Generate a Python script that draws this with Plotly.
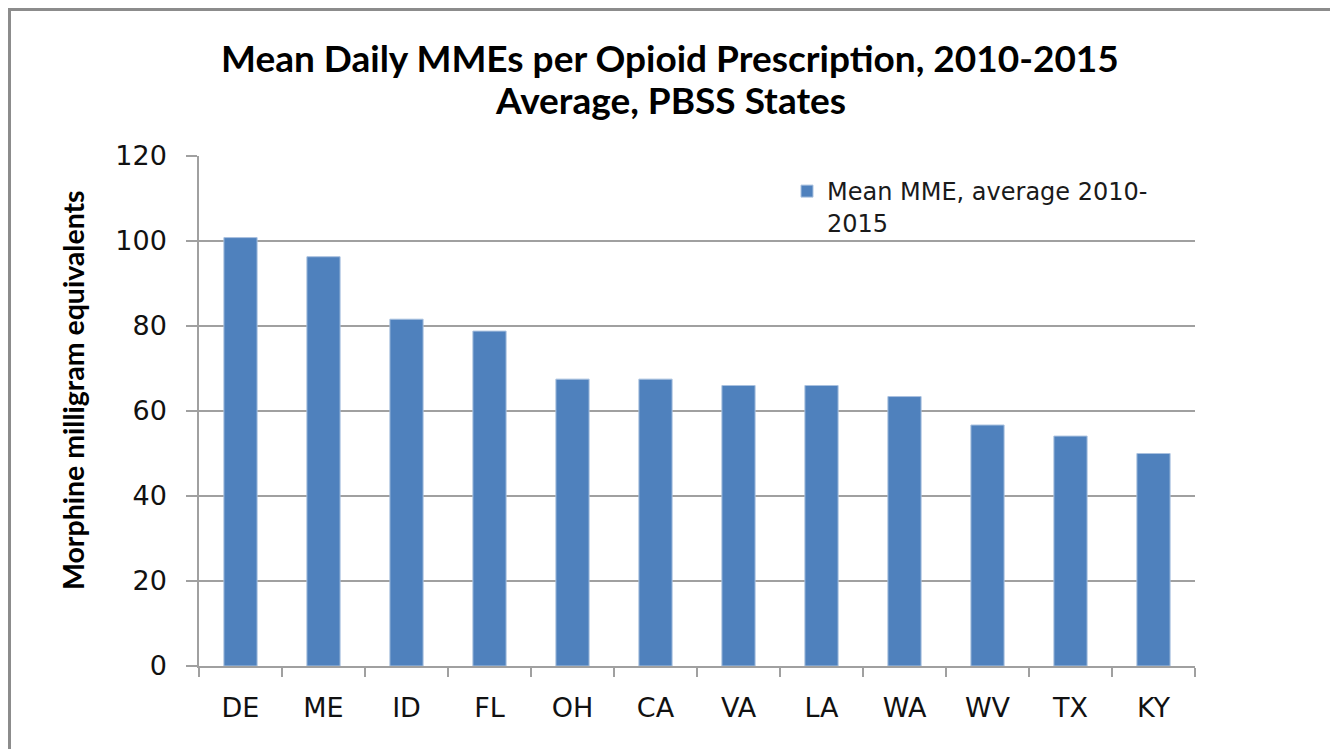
import plotly.graph_objects as go

states = ["DE", "ME", "ID", "FL", "OH", "CA", "VA", "LA", "WA", "WV", "TX", "KY"]
mean_mme = [100.8, 96.3, 81.6, 78.8, 67.5, 67.5, 66.0, 66.0, 63.4, 56.7, 54.1, 50.0]
series_name = "Mean MME, average 2010-<br>2015"
y_ticks = [0, 20, 40, 60, 80, 100, 120]

OFF = 8  # page body margin: screen = figure + 8
W, H = 1338, 749
# plot area in screen pixels: x 199..1195, y 156..666
SL, ST, SPW, SPH = 199, 156, 996, 510
L, T = SL - OFF, ST - OFF
R = W - L - SPW
B = H - T - SPH


def px(sx):
    return (sx - SL) / SPW


def py(sy):
    return (ST + SPH - sy) / SPH


fig = go.Figure()
fig.add_trace(go.Bar(
    x=states, y=mean_mme, name=series_name,
    marker=dict(color="#4f81bd", line=dict(color="#a9c1df", width=1)),
    showlegend=True,
))

grid = "#a0a0a0"
fig.update_layout(
    width=W, height=H,
    margin=dict(l=L, r=R, t=T, b=B, pad=0),
    paper_bgcolor="white", plot_bgcolor="white",
    bargap=0.6,
    showlegend=True,
    legend=dict(
        x=px(787), y=py(169), xanchor="left", yanchor="top",
        font=dict(family="DejaVu Sans", size=24, color="#1a1a1a"),
        valign="top", bgcolor="rgba(0,0,0,0)", borderwidth=0,
    ),
    xaxis=dict(
        showline=True, linecolor=grid, linewidth=1.5,
        ticks="outside", tickson="boundaries", ticklen=9, tickcolor=grid, tickwidth=1.5,
        tickfont=dict(family="DejaVu Sans", size=27, color="#111111"),
        ticklabelstandoff=17,
        showgrid=False,
    ),
    yaxis=dict(
        range=[0, 120], tickvals=y_ticks,
        showline=True, linecolor=grid, linewidth=1.5,
        ticks="outside", ticklen=11, tickcolor=grid, tickwidth=1.5,
        tickfont=dict(family="DejaVu Sans", size=27, color="#111111"),
        ticklabelstandoff=14,
        showgrid=True, gridcolor=grid, gridwidth=1.5,
        zeroline=False,
    ),
)

title_font = dict(family="Lato", size=37, color="black")
fig.add_annotation(text="<b>Mean Daily MMEs per Opioid Prescription, 2010-2015</b>",
                   xref="paper", yref="paper", x=px(670), y=py(57),
                   xanchor="center", yanchor="middle", showarrow=False, font=title_font)
fig.add_annotation(text="<b>Average, PBSS States</b>",
                   xref="paper", yref="paper", x=px(670), y=py(100),
                   xanchor="center", yanchor="middle", showarrow=False, font=title_font)
fig.add_annotation(text="<b>Morphine milligram equivalents</b>",
                   xref="paper", yref="paper", x=px(73), y=py(390),
                   xanchor="center", yanchor="middle", showarrow=False, textangle=-90,
                   font=dict(family="Lato", size=28.5, color="black"))

border = dict(color="#8c8c8c", width=3)
fig.add_shape(type="line", xref="paper", yref="paper",
              x0=px(9.5), x1=px(9.5), y0=py(8), y1=py(770), line=border)
fig.add_shape(type="line", xref="paper", yref="paper",
              x0=px(8), x1=px(1336), y0=py(9.5), y1=py(9.5), line=border)
fig.add_shape(type="line", xref="paper", yref="paper",
              x0=px(1334.5), x1=px(1334.5), y0=py(8), y1=py(770), line=border)

fig.write_html("out.html")
